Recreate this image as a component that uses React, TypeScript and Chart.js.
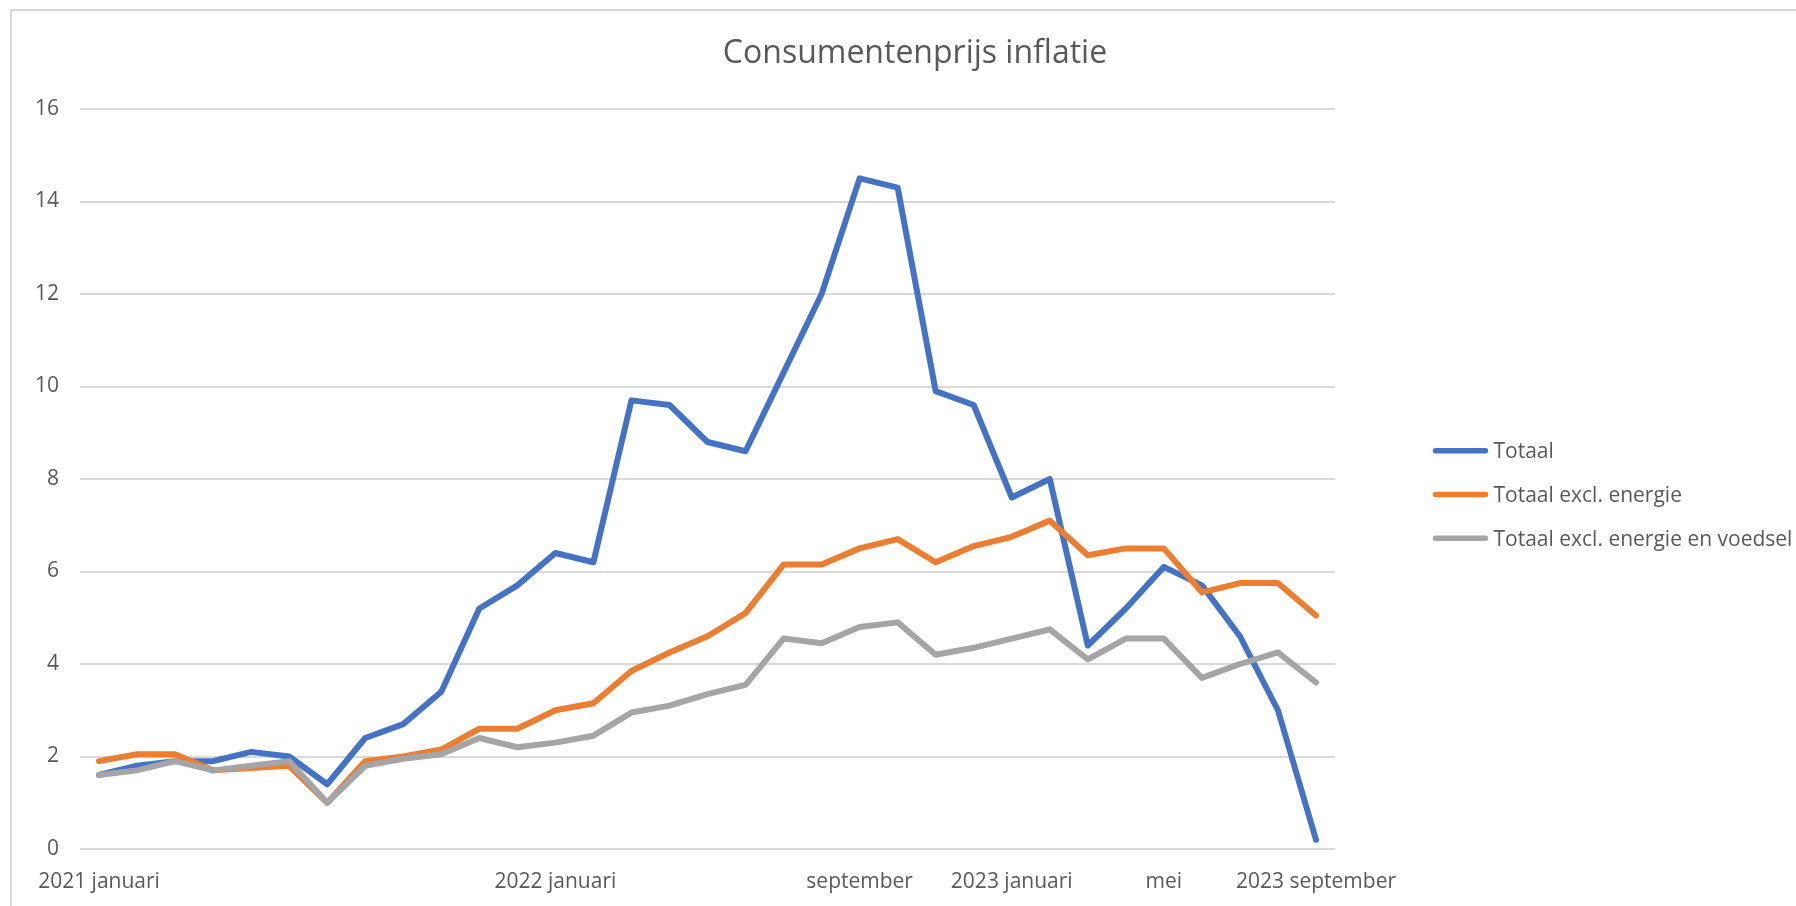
import React, { useEffect, useRef } from 'react';
import { Chart, registerables } from 'chart.js';

Chart.register(...registerables);

const months = [
  '2021-01', '2021-02', '2021-03', '2021-04', '2021-05', '2021-06', '2021-07', '2021-08', '2021-09', '2021-10', '2021-11', '2021-12',
  '2022-01', '2022-02', '2022-03', '2022-04', '2022-05', '2022-06', '2022-07', '2022-08', '2022-09', '2022-10', '2022-11', '2022-12',
  '2023-01', '2023-02', '2023-03', '2023-04', '2023-05', '2023-06', '2023-07', '2023-08', '2023-09',
];

const xTickLabels = [
  '2021 januari', '', '', '', '', '', '', '', '', '', '', '',
  '2022 januari', '', '', '', '', '', '', '', 'september', '', '', '',
  '2023 januari', '', '', '', 'mei', '', '', '', '2023 september',
];

const totaal = [
  1.6, 1.8, 1.9, 1.9, 2.1, 2.0, 1.4, 2.4, 2.7, 3.4, 5.2, 5.7,
  6.4, 6.2, 9.7, 9.6, 8.8, 8.6, 10.3, 12.0, 14.5, 14.3, 9.9, 9.6,
  7.6, 8.0, 4.4, 5.2, 6.1, 5.7, 4.6, 3.0, 0.2,
];

const totaalExclEnergie = [
  1.9, 2.05, 2.05, 1.7, 1.75, 1.8, 1.0, 1.9, 2.0, 2.15, 2.6, 2.6,
  3.0, 3.15, 3.85, 4.25, 4.6, 5.1, 6.15, 6.15, 6.5, 6.7, 6.2, 6.55,
  6.75, 7.1, 6.35, 6.5, 6.5, 5.55, 5.75, 5.75, 5.05,
];

const totaalExclEnergieVoedsel = [
  1.6, 1.7, 1.9, 1.7, 1.8, 1.9, 1.0, 1.8, 1.95, 2.05, 2.4, 2.2,
  2.3, 2.45, 2.95, 3.1, 3.35, 3.55, 4.55, 4.45, 4.8, 4.9, 4.2, 4.35,
  4.55, 4.75, 4.1, 4.55, 4.55, 3.7, 4.0, 4.25, 3.6,
];

const seriesNames = ['Totaal', 'Totaal excl. energie', 'Totaal excl. energie en voedsel'];
const seriesColors = ['#4472C4', '#ED7D31', '#A5A5A5'];

const yTicks = { min: 0, max: 16, step: 2 };

const FONT = "'Open Sans', sans-serif";
const TEXT = '#595959';
const GRID = '#D9D9D9';

export default function App() {
  const canvasRef = useRef<HTMLCanvasElement | null>(null);

  useEffect(() => {
    if (!canvasRef.current) return;

    const framePlugin = {
      id: 'frame',
      beforeDraw(chart: any) {
        const ctx = chart.ctx;
        ctx.save();
        ctx.fillStyle = '#FFFFFF';
        ctx.fillRect(0, 0, chart.width, chart.height);
        ctx.fillStyle = GRID;
        ctx.fillRect(10, 9, 2, chart.height);
        ctx.fillRect(10, 9, chart.width, 2);
        ctx.restore();
      },
    };

    const sideLegend = {
      id: 'sideLegend',
      afterDraw(chart: any) {
        const { ctx, chartArea } = chart;
        const x0 = chartArea.right + 100.5;
        const boxW = 50;
        const yMid = (chartArea.top + chartArea.bottom) / 2;
        const y0 = yMid - 28.3;
        const step = 43.8;
        ctx.save();
        chart.data.datasets.forEach((ds: any, i: number) => {
          const y = y0 + i * step;
          ctx.strokeStyle = ds.borderColor;
          ctx.lineWidth = 5.5;
          ctx.lineCap = 'round';
          ctx.beginPath();
          ctx.moveTo(x0, y);
          ctx.lineTo(x0 + boxW, y);
          ctx.stroke();
          ctx.fillStyle = TEXT;
          ctx.font = `21px ${FONT}`;
          ctx.textBaseline = 'middle';
          ctx.textAlign = 'left';
          ctx.fillText(ds.label, x0 + boxW + 8, y + 1.5);
        });
        ctx.restore();
      },
    };

    const seriesData = [totaal, totaalExclEnergie, totaalExclEnergieVoedsel];

    const chart = new Chart(canvasRef.current, {
      type: 'line',
      data: {
        labels: months,
        datasets: seriesNames.map((name, i) => ({
          label: name,
          data: seriesData[i],
          borderColor: seriesColors[i],
          backgroundColor: seriesColors[i],
          borderWidth: 6,
          pointRadius: 0,
          pointHoverRadius: 0,
          tension: 0,
          fill: false,
          borderJoinStyle: 'round',
          borderCapStyle: 'round',
          order: 3 - i,
        })),
      },
      options: {
        animation: false,
        responsive: true,
        maintainAspectRatio: false,
        layout: { padding: 0 },
        plugins: {
          legend: { display: false },
          tooltip: { enabled: false },
          title: {
            display: true,
            text: 'Consumentenprijs inflatie',
            color: TEXT,
            font: { family: FONT, size: 32, weight: 'normal' },
            padding: { top: 35, bottom: 35.6 },
          },
        },
        scales: {
          x: {
            type: 'category',
            offset: true,
            grid: { display: false, drawTicks: false },
            border: { display: false },
            ticks: {
              autoSkip: false,
              maxRotation: 0,
              minRotation: 0,
              padding: 20,
              color: TEXT,
              font: { family: FONT, size: 21 },
              callback: (_v: any, i: number) => xTickLabels[i],
            },
            afterFit: (s: any) => {
              s.height = 57;
            },
          },
          y: {
            min: yTicks.min,
            max: yTicks.max,
            ticks: {
              stepSize: yTicks.step,
              padding: 21,
              color: TEXT,
              font: { family: FONT, size: 21 },
            },
            grid: { color: GRID, lineWidth: 2, drawTicks: false },
            border: { display: false },
            afterFit: (s: any) => {
              s.width = 80;
            },
          },
          spacer: {
            type: 'linear',
            position: 'right',
            display: true,
            grid: { display: false, drawTicks: false },
            ticks: { display: false },
            border: { display: false },
            afterFit: (s: any) => {
              s.width = 495;
            },
          },
        },
      } as any,
      plugins: [framePlugin, sideLegend],
    });

    return () => {
      chart.destroy();
    };
  }, []);

  return (
    <div style={{ position: 'fixed', left: 0, top: 0, right: 0, bottom: 0, overflow: 'hidden', background: '#fff' }}>
      <div style={{ position: 'absolute', left: 0, top: 0, width: 1830, height: 906 }}>
        <canvas ref={canvasRef} />
      </div>
    </div>
  );
}
